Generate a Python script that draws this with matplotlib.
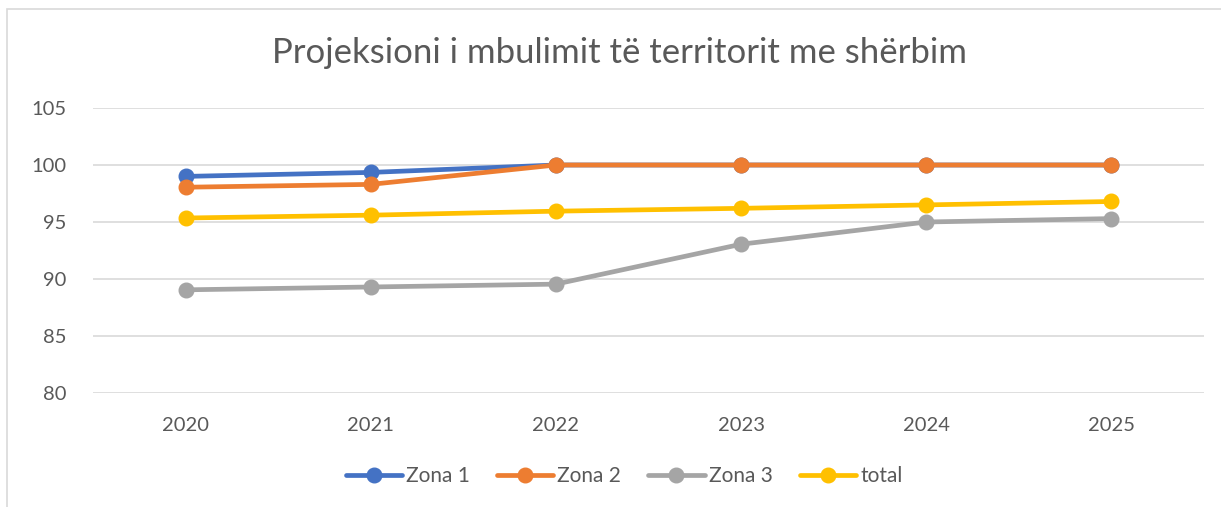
import matplotlib
matplotlib.use("Agg")
import matplotlib.pyplot as plt
from matplotlib.patches import Rectangle

years = ["2020", "2021", "2022", "2023", "2024", "2025"]
zona1 = [99.0, 99.35, 100, 100, 100, 100]
zona2 = [98.05, 98.3, 100, 100, 100, 100]
zona3 = [89.05, 89.3, 89.55, 93.05, 95.0, 95.3]
total = [95.35, 95.6, 95.95, 96.2, 96.5, 96.8]
series_names = ["Zona 1", "Zona 2", "Zona 3", "total"]
colors = ["#4472C4", "#ED7D31", "#A5A5A5", "#FFC000"]
yticks = [80, 85, 90, 95, 100, 105]
title = "Projeksioni i mbulimit të territorit me shërbim"

plt.rcParams['font.family'] = ['Lato', 'DejaVu Sans']
txt = "#595959"

fig = plt.figure(figsize=(12.21, 5.07), dpi=100)
ax = fig.add_axes([93/1221, 1-393/507, (1204-93)/1221, (393-108)/507])

x = list(range(len(years)))
for name, vals, c in zip(series_names, [zona1, zona2, zona3, total], colors):
    ax.plot(x, vals, color=c, lw=3.4, marker='o', markersize=10.5, label=name,
            solid_capstyle='round')

ax.set_xlim(-0.5, len(years) - 0.5)
ax.set_ylim(80, 105)
ax.set_yticks(yticks)
ax.set_yticklabels([str(t) for t in yticks])
ax.set_xticks(x)
ax.set_xticklabels(years)
ax.grid(axis='y', color='#D9D9D9', lw=1.2)
ax.set_axisbelow(True)
for s in ax.spines.values():
    s.set_visible(False)
ax.tick_params(axis='both', length=0, colors=txt, labelsize=14.5)
ax.tick_params(axis='y', pad=19)
ax.tick_params(axis='x', pad=17)

fig.text(620/1221, 1-53/507, title, ha='center', va='center', fontsize=25, color=txt)

leg = fig.legend(loc='center', bbox_to_anchor=(624/1221, 1-476/507), ncol=4,
                 frameon=False, fontsize=15, handlelength=2.7,
                 handletextpad=0.2, columnspacing=1.3, labelcolor=txt)

fig.patches.append(Rectangle((7/1221, -0.1), 1.2, 1 - 9/507 + 0.1,
                             transform=fig.transFigure, fill=False,
                             edgecolor='#D9D9D9', lw=1.2))

fig.savefig("out.png", dpi=100)
